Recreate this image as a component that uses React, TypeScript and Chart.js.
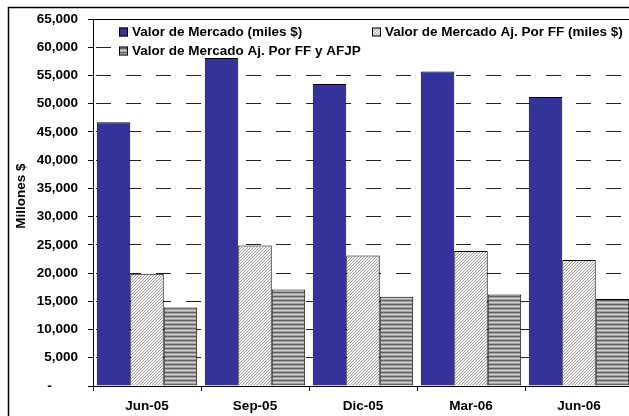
import React, { useEffect, useRef } from "react";
import { Chart, registerables } from "chart.js";

Chart.register(...registerables);

const categories = ["Jun-05", "Sep-05", "Dic-05", "Mar-06", "Jun-06"];
const seriesNames = [
  "Valor de Mercado (miles $)",
  "Valor de Mercado Aj. Por FF (miles $)",
  "Valor de Mercado Aj. Por FF y AFJP",
];
const valorMercado = [46700, 58100, 53500, 55700, 51200];
const valorAjFF = [19900, 24900, 23100, 23900, 22300];
const valorAjFFAFJP = [13900, 17100, 15800, 16200, 15400];
const yMin = 0;
const yMax = 65000;
const yStep = 5000;
const yTitle = "Millones $";

const FONT_FAMILY = "'Liberation Sans', Arial, sans-serif";
const FONT_SIZE = 13.5;

function makeDiagPattern(ctx: CanvasRenderingContext2D) {
  const c = document.createElement("canvas");
  c.width = 3;
  c.height = 3;
  const g = c.getContext("2d")!;
  g.fillStyle = "#f2f2f2";
  g.fillRect(0, 0, 3, 3);
  g.fillStyle = "#a0a0a0";
  for (let i = 0; i < 3; i++) g.fillRect(i, 2 - i, 1, 1);
  return ctx.createPattern(c, "repeat")!;
}

function makeStripePattern(ctx: CanvasRenderingContext2D) {
  const c = document.createElement("canvas");
  c.width = 2;
  c.height = 4;
  const g = c.getContext("2d")!;
  const rows = ["#636363", "#9e9e9e", "#d0d0d0", "#a2a2a2"];
  rows.forEach((col, i) => {
    g.fillStyle = col;
    g.fillRect(0, i, 2, 1);
  });
  return ctx.createPattern(c, "repeat")!;
}

export default function App() {
  const ref = useRef<HTMLCanvasElement | null>(null);

  useEffect(() => {
    const canvas = ref.current;
    if (!canvas) return;
    const ctx = canvas.getContext("2d")!;
    const diag = makeDiagPattern(ctx);
    const stripe = makeStripePattern(ctx);
    const fills: any[] = ["#333399", diag, stripe];
    const font = { family: FONT_FAMILY, size: FONT_SIZE, weight: "bold" as const };
    const fontStr = `bold ${FONT_SIZE}px ${FONT_FAMILY}`;

    const legendPlugin = {
      id: "customLegend",
      beforeDatasetsDraw(chart: any) {
        const c = chart.ctx as CanvasRenderingContext2D;
        c.save();
        c.fillStyle = "#ffffff";
        c.fillRect(113, 23, 508, 37);
        const items = [
          { x: 119, y: 32 },
          { x: 372, y: 32 },
          { x: 119, y: 51 },
        ];
        c.font = fontStr;
        c.textBaseline = "middle";
        c.textAlign = "left";
        items.forEach((it, i) => {
          c.fillStyle = fills[i];
          c.fillRect(it.x, it.y - 4.5, 9, 9);
          c.strokeStyle = "#000";
          c.lineWidth = 1;
          c.strokeRect(it.x + 0.5, it.y - 4, 8, 8);
          c.fillStyle = "#000";
          c.fillText(seriesNames[i], it.x + 13, it.y);
        });
        c.restore();
      },
      afterDraw(chart: any) {
        const c = chart.ctx as CanvasRenderingContext2D;
        const a = chart.chartArea;
        c.save();
        c.strokeStyle = "#000";
        c.lineWidth = 1;
        c.beginPath();
        c.moveTo(a.left, Math.round(a.top) + 0.5);
        c.lineTo(a.right, Math.round(a.top) + 0.5);
        c.stroke();
        c.lineWidth = 1.5;
        c.beginPath();
        c.moveTo(8.5, chart.height);
        c.lineTo(8.5, 7.5);
        c.lineTo(chart.width, 7.5);
        c.stroke();
        c.font = fontStr;
        c.fillStyle = "#000";
        c.textAlign = "center";
        c.textBaseline = "middle";
        c.translate(21, 196);
        c.rotate(-Math.PI / 2);
        c.fillText(yTitle, 0, 0);
        c.restore();
      },
    };

    const chart = new Chart(canvas, {
      type: "bar",
      data: {
        labels: categories,
        datasets: [
          { label: seriesNames[0], data: valorMercado, backgroundColor: fills[0], borderColor: "#000", borderWidth: 1 },
          { label: seriesNames[1], data: valorAjFF, backgroundColor: fills[1], borderColor: "#000", borderWidth: 1 },
          { label: seriesNames[2], data: valorAjFFAFJP, backgroundColor: fills[2], borderColor: "#000", borderWidth: 1 },
        ],
      },
      options: {
        responsive: false,
        animation: false,
        devicePixelRatio: 1,
        layout: { padding: { left: 0, top: 19, right: 17, bottom: 0 } },
        datasets: { bar: { categoryPercentage: 0.93, barPercentage: 1 } },
        plugins: {
          legend: { display: false },
          title: { display: false },
          tooltip: { enabled: false },
        },
        scales: {
          x: {
            grid: {
              offset: true,
              drawOnChartArea: false,
              tickLength: 5,
              color: "#000",
              tickColor: "#000",
            },
            border: { color: "#000", width: 1 },
            ticks: { font, color: "#000", padding: 7, maxRotation: 0, autoSkip: false },
            afterFit: (s: any) => {
              s.height = 44;
            },
          },
          y: {
            min: yMin,
            max: yMax,
            ticks: {
              stepSize: yStep,
              font,
              color: "#000",
              padding: 10,
              callback: (v: any) =>
                Number(v) === 0 ? "-" + "\u00a0".repeat(7) : Number(v).toLocaleString("en-US"),
            },
            grid: { color: "#222", tickLength: 5, tickColor: "#000" },
            border: { color: "#000", width: 1, dash: [15, 15], dashOffset: 28 },
            afterFit: (s: any) => {
              s.width = 93;
            },
          },
        },
      },
      plugins: [legendPlugin],
    } as any);

    return () => chart.destroy();
  }, []);

  return (
    <div
      style={{
        position: "fixed",
        left: 0,
        top: 0,
        width: 629,
        height: 416,
        overflow: "hidden",
        background: "#fff",
      }}
    >
      <canvas ref={ref} width={650} height={430} style={{ display: "block", width: 650, height: 430 }} />
    </div>
  );
}
